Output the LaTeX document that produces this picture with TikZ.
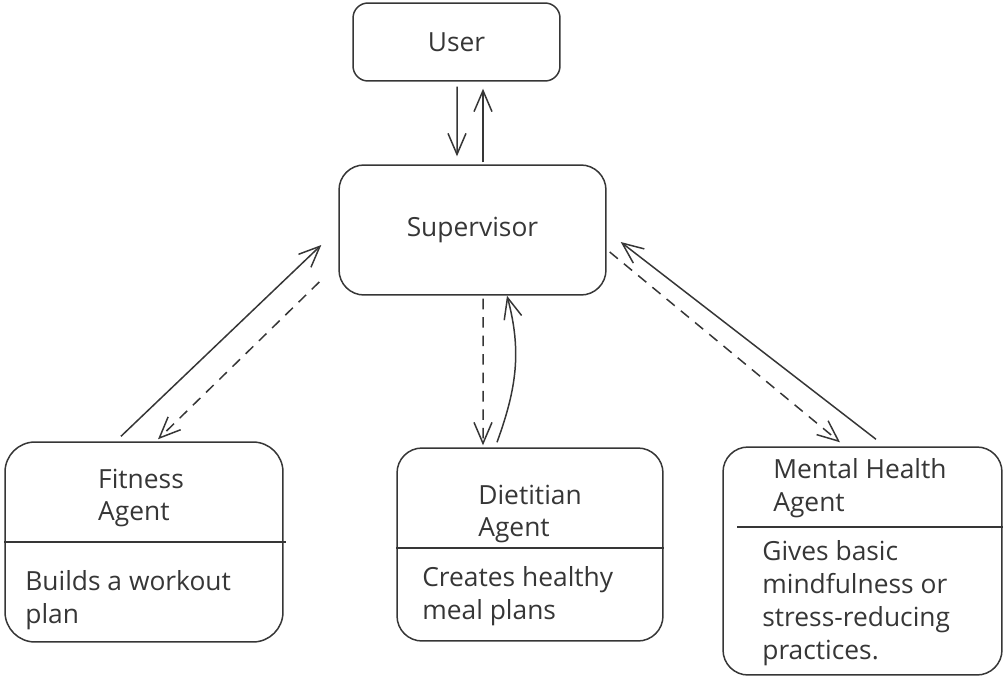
\documentclass[tikz,border=0pt]{standalone}
\usepackage{fontspec}
\setmainfont{Open Sans}
\usetikzlibrary{arrows.meta,calc}
\definecolor{ink}{HTML}{363636}
\begin{document}
\begin{tikzpicture}[
  x=0.02cm, y=-0.02cm,
  >={Straight Barb[length=4.2mm,width=3.6mm]},
  box/.style={rectangle, draw=ink, rounded corners=0.5cm, line width=0.85pt},
  heading/.style={text=ink, inner sep=0pt, font=\fontsize{15}{18.5}\selectfont, align=left},
  detail/.style={text=ink, inner sep=0pt, font=\fontsize{15}{18.7}\selectfont, align=left, anchor=west},
  link/.style={->, draw=ink, line width=0.85pt},
  reply/.style={link, dash pattern=on 6pt off 4.5pt}
]
\useasboundingbox (0,0) rectangle (1005,680);

\node[box, rounded corners=0.3cm, minimum width=4.14cm, minimum height=1.56cm] (user) at (456.5,42) {};
\node[heading] (usertext) at (user) {User};
\node[box, minimum width=5.34cm, minimum height=2.6cm] (supervisor) at (472.5,230) {};
\node[heading] (supervisortext) at (supervisor) {Supervisor};

\node[box, rounded corners=0.6cm, minimum width=5.56cm, minimum height=4cm] (fitness) at (144,542) {};
\node[heading] (fitnesstitle) at (141,498) {Fitness\\Agent};
\node[detail] (fitnessbody) at (25,600) {Builds a workout\\plan};
\coordinate (fitnessdiv) at (5,542);

\node[box, minimum width=5.32cm, minimum height=3.86cm] (dietitian) at (530,544.5) {};
\node[heading, anchor=west] (dietitiantitle) at (478,514) {Dietitian\\Agent};
\node[detail] (dietitianbody) at (422,596) {Creates healthy\\meal plans};
\coordinate (dietitiandiv) at (397,548);

\node[box, minimum width=5.58cm, minimum height=4.56cm] (mental) at (862.5,561) {};
\node[heading, anchor=west] (mentaltitle) at (773,488) {Mental Health\\Agent};
\node[detail] (mentalbody) at (762,603) {Gives basic\\mindfulness or\\stress-reducing\\practices.};
\coordinate (mentaldiv) at (737,527);

\draw[ink, line width=0.85pt] (fitness.west |- fitnessdiv) -- ($(fitness.east |- fitnessdiv)+(2,0)$);
\draw[ink, line width=0.85pt] (dietitian.west |- dietitiandiv) -- (dietitian.east |- dietitiandiv);
\draw[ink, line width=0.85pt] (mentaldiv) -- (mental.east |- mentaldiv);

\draw[link] ($(user.south)+(0.5,5)$) -- ($(supervisor.north)+(-15.5,-8)$);
\draw[link] ($(supervisor.north)+(10.5,-2)$) -- ($(user.south)+(26.5,7)$);

\draw[link] ($(fitness.north)+(-23,-5)$) -- ($(supervisor.west)+(-17,15)$);
\draw[reply] ($(supervisor.west)+(-19,52)$) -- ($(fitness.north)+(14,-2)$);

\draw[reply] ($(supervisor.south)+(10.5,3)$) -- ($(dietitian.north)+(-47,-2)$);
\draw[link] ($(dietitian.north)+(-33,-5)$) to[out=70, in=-75] ($(supervisor.south)+(34.5,0)$);

\draw[link] ($(mental.north)+(13.5,-7)$) -- ($(supervisor.east)+(14,12)$);
\draw[reply] ($(supervisor.east)+(3,22)$) -- ($(mental.north)+(-22.5,-4)$);
\end{tikzpicture}
\end{document}
